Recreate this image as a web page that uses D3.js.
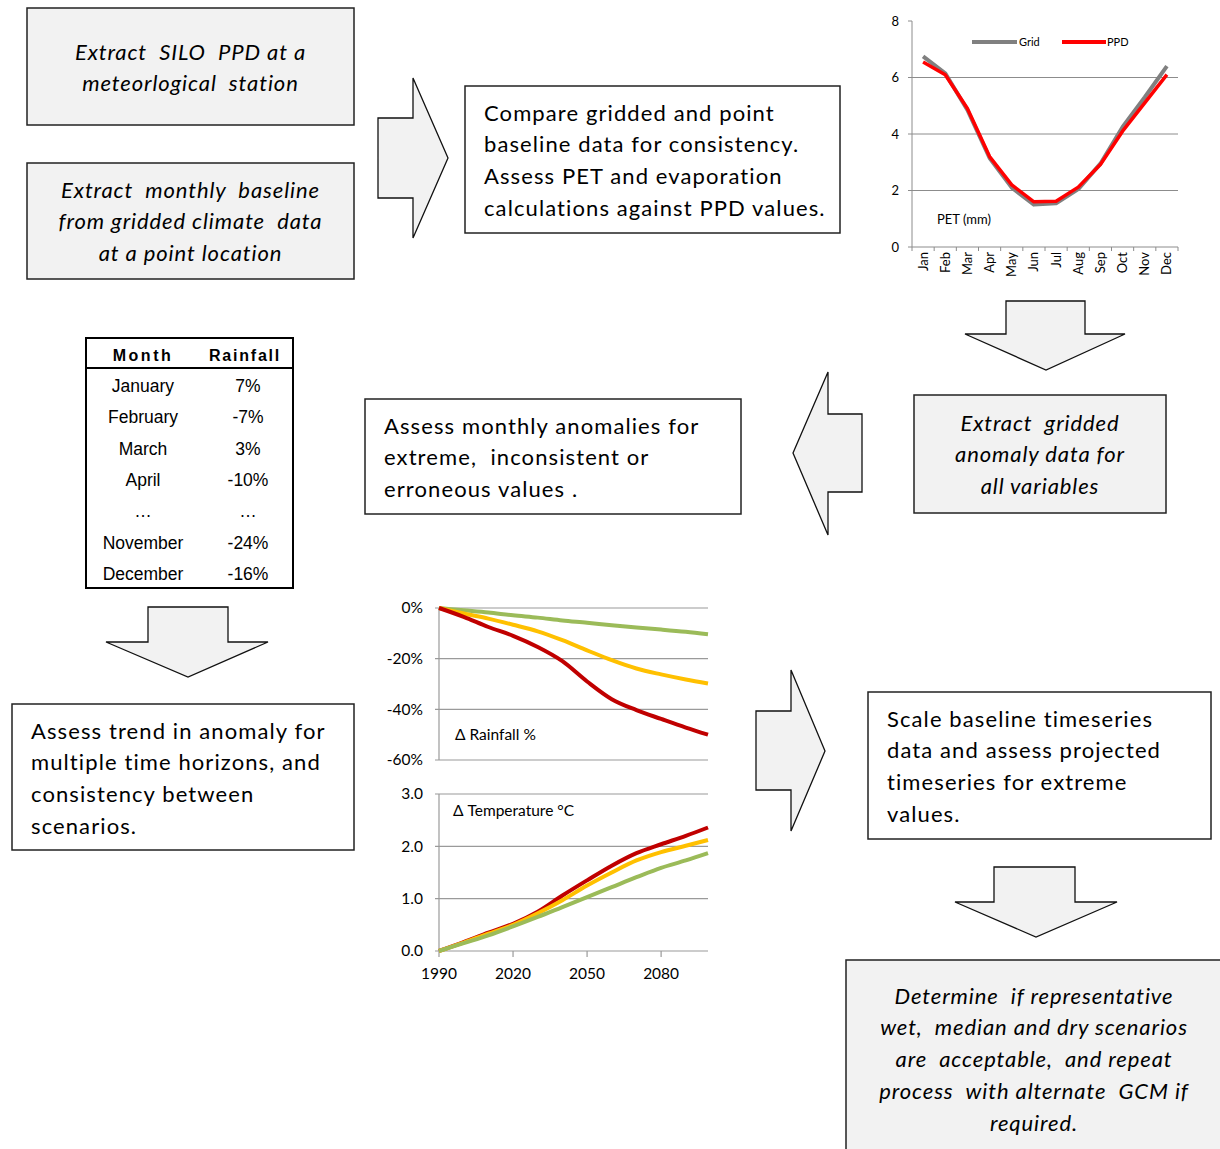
<!DOCTYPE html>
<html>
<head>
<meta charset="utf-8">
<script src="https://cdn.jsdelivr.net/npm/d3@7"></script>
<style>
  body { margin: 0; background: #fff; }
  svg { display: block; }
  text { font-family: Lato, "Open Sans", sans-serif; fill: #000; }
</style>
</head>
<body>
<svg id="chart" width="1220" height="1149"></svg>
<script>
// ---- data ----
const months = ["Jan", "Feb", "Mar", "Apr", "May", "Jun", "Jul", "Aug", "Sep", "Oct", "Nov", "Dec"];
const petGrid = [6.75, 6.15, 4.85, 3.15, 2.1, 1.5, 1.55, 2.05, 2.95, 4.25, 5.3, 6.4];
const petPPD = [6.55, 6.1, 4.9, 3.2, 2.2, 1.6, 1.62, 2.12, 2.92, 4.1, 5.1, 6.1];
const petTicks = [0, 2, 4, 6, 8];

const tableMonths = ["January", "February", "March", "April", "…", "November", "December"];
const tableRain = ["7%", "-7%", "3%", "-10%", "…", "-24%", "-16%"];

const years = [1990, 2000, 2010, 2020, 2030, 2040, 2050, 2060, 2070, 2080, 2090, 2099];
const rainDry = [0, -3.5, -7.5, -11, -15.4, -21, -29, -36, -40.3, -43.8, -47.2, -50];
const rainMid = [0, -2.2, -4.2, -6.6, -9.2, -12.7, -16.7, -20.6, -23.9, -26.2, -28.2, -29.8];
const rainWet = [0, -0.9, -1.8, -2.9, -3.8, -4.9, -5.8, -6.8, -7.7, -8.5, -9.4, -10.4];
const tempDry = [0, 0.17, 0.35, 0.52, 0.75, 1.06, 1.35, 1.63, 1.87, 2.04, 2.2, 2.36];
const tempMid = [0, 0.16, 0.33, 0.5, 0.72, 0.97, 1.25, 1.5, 1.73, 1.89, 2.01, 2.12];
const tempWet = [0, 0.15, 0.3, 0.47, 0.65, 0.84, 1.03, 1.22, 1.41, 1.59, 1.73, 1.87];
const rainTicks = [0, -20, -40, -60];
const tempTicks = [0, 1, 2, 3];
const yearTicks = [1990, 2020, 2050, 2080];

const svg = d3.select("#chart");
const GREY = "#f2f2f2";

// ---- boxes ----
const boxes = [
  {x: 27, y: 8, w: 327, h: 117, fill: GREY, italic: true, align: "middle", lines: ["Extract  SILO  PPD at a", "meteorlogical  station"], y0: 52},
  {x: 27, y: 163, w: 327, h: 116, fill: GREY, italic: true, align: "middle", lines: ["Extract  monthly  baseline", "from gridded climate  data", "at a point location"], y0: 190},
  {x: 465, y: 86, w: 375, h: 147, fill: "#fff", italic: false, align: "start", lines: ["Compare gridded and point", "baseline data for consistency.", "Assess PET and evaporation", "calculations against PPD values."], y0: 113},
  {x: 914, y: 395, w: 252, h: 118, fill: GREY, italic: true, align: "middle", lines: ["Extract  gridded", "anomaly data for", "all variables"], y0: 423},
  {x: 365, y: 399, w: 376, h: 115, fill: "#fff", italic: false, align: "start", lines: ["Assess monthly anomalies for", "extreme,  inconsistent or", "erroneous values ."], y0: 426},
  {x: 12, y: 704, w: 342, h: 146, fill: "#fff", italic: false, align: "start", lines: ["Assess trend in anomaly for", "multiple time horizons, and", "consistency between", "scenarios."], y0: 731},
  {x: 868, y: 692, w: 343, h: 147, fill: "#fff", italic: false, align: "start", lines: ["Scale baseline timeseries", "data and assess projected", "timeseries for extreme", "values."], y0: 719},
  {x: 846, y: 960, w: 390, h: 200, fill: GREY, italic: true, align: "middle", lines: ["Determine  if representative", "wet,  median and dry scenarios", "are  acceptable,  and repeat", "process  with alternate  GCM if", "required."], y0: 996, cx: 1034}
];

boxes.forEach(b => {
  svg.append("rect")
    .attr("x", b.x).attr("y", b.y).attr("width", b.w).attr("height", b.h)
    .attr("fill", b.fill).attr("stroke", "#222").attr("stroke-width", 1.5);
  const tx = b.align === "middle" ? (b.cx || b.x + b.w / 2) : b.x + 19;
  const t = svg.append("text")
    .attr("text-anchor", b.align)
    .style("font-size", "22px")
    .style("letter-spacing", b.italic ? "0.9px" : "1.1px")
    .style("font-style", b.italic ? "italic" : "normal")
    .style("white-space", "pre");
  b.lines.forEach((l, i) => {
    t.append("tspan").attr("x", tx).attr("y", b.y0 + i * 31.7).attr("dy", "0.35em").text(l);
  });
});

// ---- block arrows ----
const arrows = [
  [[378, 118], [413, 118], [413, 78], [448, 158], [413, 238], [413, 198], [378, 198]],
  [[1006, 301], [1085, 301], [1085, 334], [1125, 334], [1046, 370], [965, 334], [1006, 334]],
  [[862, 414], [828, 414], [828, 372], [793, 453], [828, 535], [828, 492], [862, 492]],
  [[148, 607], [228, 607], [228, 642], [268, 642], [188, 677], [106, 642], [148, 642]],
  [[756, 711], [791, 711], [791, 670], [825, 751], [791, 831], [791, 790], [756, 790]],
  [[994, 867], [1075, 867], [1075, 902], [1117, 902], [1036, 937], [955, 902], [994, 902]]
];
svg.selectAll("polygon.arrow").data(arrows).join("polygon")
  .attr("class", "arrow")
  .attr("points", d => d.map(p => p.join(",")).join(" "))
  .attr("fill", GREY).attr("stroke", "#111").attr("stroke-width", 1.3);

// ---- PET chart ----
const px = d3.scaleBand().domain(months).range([912, 1178]);
const py = d3.scaleLinear().domain([0, 8]).range([247, 21]);
const pet = svg.append("g");
pet.selectAll("line.grid").data(petTicks.filter(v => v > 0 && v < 8)).join("line")
  .attr("x1", 912).attr("x2", 1178).attr("y1", d => py(d)).attr("y2", d => py(d))
  .attr("stroke", "#8c8c8c").attr("stroke-width", 1);
pet.append("line").attr("x1", 912).attr("x2", 912).attr("y1", py(8)).attr("y2", py(0)).attr("stroke", "#8c8c8c");
pet.append("line").attr("x1", 912).attr("x2", 1178).attr("y1", py(0)).attr("y2", py(0)).attr("stroke", "#8c8c8c");
pet.selectAll("line.ytick").data(petTicks).join("line")
  .attr("x1", 908).attr("x2", 912).attr("y1", d => py(d)).attr("y2", d => py(d)).attr("stroke", "#8c8c8c");
pet.selectAll("line.xtick").data(months.concat(["end"])).join("line")
  .attr("x1", (d, i) => 912 + i * px.bandwidth()).attr("x2", (d, i) => 912 + i * px.bandwidth())
  .attr("y1", py(0)).attr("y2", py(0) + 4).attr("stroke", "#8c8c8c");
pet.selectAll("text.ylab").data(petTicks).join("text")
  .attr("x", 899).attr("y", d => py(d)).attr("dy", "0.35em").attr("text-anchor", "end")
  .style("font-size", "13px").text(d => d);
pet.selectAll("text.xlab").data(months).join("text")
  .attr("transform", d => `translate(${px(d) + px.bandwidth() / 2 + 4.5},252) rotate(-90)`)
  .attr("text-anchor", "end").style("font-size", "13px").text(d => d);
const petLine = d3.line().x((d, i) => px(months[i]) + px.bandwidth() / 2).y(d => py(d)).curve(d3.curveLinear);
pet.append("path").attr("d", petLine(petGrid)).attr("fill", "none").attr("stroke", "#808080").attr("stroke-width", 4).attr("stroke-linejoin", "round");
pet.append("path").attr("d", petLine(petPPD)).attr("fill", "none").attr("stroke", "#ff0000").attr("stroke-width", 3.5).attr("stroke-linejoin", "round");
pet.append("line").attr("x1", 972).attr("x2", 1017).attr("y1", 42).attr("y2", 42).attr("stroke", "#808080").attr("stroke-width", 4);
pet.append("text").attr("x", 1019).attr("y", 42).attr("dy", "0.35em").style("font-size", "11px").text("Grid");
pet.append("line").attr("x1", 1062).attr("x2", 1106).attr("y1", 42).attr("y2", 42).attr("stroke", "#ff0000").attr("stroke-width", 4);
pet.append("text").attr("x", 1107).attr("y", 42).attr("dy", "0.35em").style("font-size", "11px").text("PPD");
pet.append("text").attr("x", 937).attr("y", 219).attr("dy", "0.35em").style("font-size", "13px").text("PET (mm)");

// ---- table ----
const tb = svg.append("g");
tb.append("rect").attr("x", 86).attr("y", 338).attr("width", 207).attr("height", 250)
  .attr("fill", "#fff").attr("stroke", "#000").attr("stroke-width", 2);
tb.append("line").attr("x1", 86).attr("x2", 293).attr("y1", 368).attr("y2", 368).attr("stroke", "#000").attr("stroke-width", 2);
tb.append("text").attr("x", 143).attr("y", 355).attr("dy", "0.35em").attr("text-anchor", "middle")
  .style("font-family", "'Liberation Sans', Arial").style("font-size", "16px").style("font-weight", "bold")
  .style("letter-spacing", "2.5px").text("Month");
tb.append("text").attr("x", 245).attr("y", 355).attr("dy", "0.35em").attr("text-anchor", "middle")
  .style("font-family", "'Liberation Sans', Arial").style("font-size", "16px").style("font-weight", "bold")
  .style("letter-spacing", "1.8px").text("Rainfall");
const rowY = d3.scaleLinear().domain([0, 6]).range([386, 574]);
tb.selectAll("text.m").data(tableMonths).join("text")
  .attr("x", 143).attr("y", (d, i) => rowY(i)).attr("dy", "0.35em").attr("text-anchor", "middle")
  .style("font-family", "'Liberation Sans', Arial").style("font-size", "17.5px").text(d => d);
tb.selectAll("text.r").data(tableRain).join("text")
  .attr("x", 248).attr("y", (d, i) => rowY(i)).attr("dy", "0.35em").attr("text-anchor", "middle")
  .style("font-family", "'Liberation Sans', Arial").style("font-size", "17.5px").text(d => d);

// ---- rainfall / temperature scenario chart ----
const sx = d3.scaleLinear().domain([1990, 2099]).range([439, 708]);
const ry = d3.scaleLinear().domain([-60, 0]).range([760, 608]);
const ty = d3.scaleLinear().domain([0, 3]).range([951, 794]);
const sc = svg.append("g");

function panel(yScale, ticks, fmt) {
  sc.selectAll(null).data(ticks).join("line")
    .attr("x1", 435).attr("x2", 708).attr("y1", d => yScale(d)).attr("y2", d => yScale(d))
    .attr("stroke", "#9a9a9a").attr("stroke-width", 1.2);
  sc.append("line").attr("x1", 439).attr("x2", 439)
    .attr("y1", yScale.range()[1]).attr("y2", yScale.range()[0]).attr("stroke", "#9a9a9a").attr("stroke-width", 1.2);
  sc.selectAll(null).data(ticks).join("text")
    .attr("x", 423).attr("y", d => yScale(d)).attr("dy", "0.35em").attr("text-anchor", "end")
    .style("font-size", "15.5px").text(fmt);
}
panel(ry, rainTicks, d => d + "%");
panel(ty, tempTicks, d => d.toFixed(1));

sc.selectAll(null).data(yearTicks).join("line")
  .attr("x1", d => sx(d)).attr("x2", d => sx(d)).attr("y1", 951).attr("y2", 957)
  .attr("stroke", "#9a9a9a").attr("stroke-width", 1.2);
sc.selectAll(null).data(yearTicks).join("text")
  .attr("x", d => sx(d)).attr("y", 974).attr("dy", "0.35em").attr("text-anchor", "middle")
  .style("font-size", "15.5px").text(d => d);

const series = [
  {rain: rainWet, temp: tempWet, color: "#9bbb59"},
  {rain: rainMid, temp: tempMid, color: "#ffc000"},
  {rain: rainDry, temp: tempDry, color: "#c00000"}
];
const rainLine = d3.line().x((d, i) => sx(years[i])).y(d => ry(d)).curve(d3.curveMonotoneX);
const tempLine = d3.line().x((d, i) => sx(years[i])).y(d => ty(d)).curve(d3.curveMonotoneX);
series.forEach(s => {
  sc.append("path").attr("d", rainLine(s.rain)).attr("fill", "none").attr("stroke", s.color).attr("stroke-width", 4);
});
[series[2], series[1], series[0]].forEach(s => {
  sc.append("path").attr("d", tempLine(s.temp)).attr("fill", "none").attr("stroke", s.color).attr("stroke-width", 4);
});
sc.append("text").attr("x", 455).attr("y", 735).attr("dy", "0.35em").style("font-size", "15.5px").text("Δ Rainfall %");
sc.append("text").attr("x", 453).attr("y", 811).attr("dy", "0.35em").style("font-size", "15.5px").text("Δ Temperature °C");
</script>
</body>
</html>
